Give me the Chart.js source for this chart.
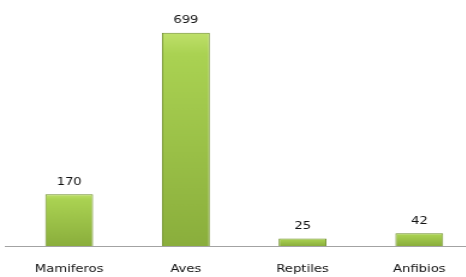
<!DOCTYPE html>
<html>
<head>
<meta charset="utf-8">
<script src="https://cdn.jsdelivr.net/npm/chart.js@4"></script>
<style>
  html, body { margin: 0; padding: 0; background: #fff; overflow: hidden; width: 466px; height: 277px; }
  #wrap { width: 398px; height: 277px; transform: scaleX(1.2); transform-origin: 0 0; }
</style>
</head>
<body>
<div id="wrap"><canvas id="canvas" width="398" height="277"></canvas></div>
<script>
const categorias = ['Mamiferos', 'Aves', 'Reptiles', 'Anfibios'];
const especies = [170, 699, 25, 42];
const yMax = 800;

// base line under the bars, runs past the plot to the edge
const baseLine = {
    id: 'baseLine',
    beforeDatasetsDraw(chart) {
        const ctx = chart.ctx;
        const y = Math.round(chart.chartArea.bottom) + 0.5;
        ctx.save();
        ctx.strokeStyle = '#a3a3a3';
        ctx.lineWidth = 1;
        ctx.beginPath();
        ctx.moveTo(4, y);
        ctx.lineTo(chart.width, y);
        ctx.stroke();
        ctx.restore();
    }
};

// numbers above each bar
const valueLabels = {
    id: 'valueLabels',
    afterDatasetsDraw(chart) {
        const ctx = chart.ctx;
        ctx.save();
        ctx.font = '11px "DejaVu Sans"';
        ctx.fillStyle = '#111';
        ctx.textAlign = 'center';
        ctx.textBaseline = 'bottom';
        chart.getDatasetMeta(0).data.forEach((bar, i) => {
            ctx.fillText(especies[i], bar.x, bar.y - 7);
        });
        ctx.restore();
    }
};

function barFill(c) {
    const chart = c.chart;
    const ys = chart.scales.y;
    if (!ys || c.raw === undefined) return '#9cc247';
    const top = ys.getPixelForValue(c.raw);
    const base = ys.getPixelForValue(0);
    if (!isFinite(top) || !isFinite(base) || top === base) return '#9cc247';
    const g = chart.ctx.createLinearGradient(0, top, 0, base);
    g.addColorStop(0, '#bfe06a');
    g.addColorStop(0.1, '#aad252');
    g.addColorStop(1, '#8aae3c');
    return g;
}

const ctx = document.getElementById('canvas').getContext('2d');
const myChart = new Chart(ctx, {
    type: 'bar',
    data: {
        labels: categorias,
        datasets: [{
            data: especies,
            backgroundColor: barFill,
            borderColor: '#6f8f2a',
            borderWidth: 1,
            barPercentage: 0.41,
            categoryPercentage: 1
        }]
    },
    options: {
        responsive: false,
        animation: false,
        devicePixelRatio: 1,
        layout: { padding: { left: 9, right: 0, top: 2, bottom: 0 } },
        plugins: {
            legend: { display: false },
            tooltip: { enabled: false }
        },
        scales: {
            x: {
                grid: { display: false, drawTicks: false },
                border: { display: false },
                ticks: {
                    padding: 17,
                    color: '#111',
                    font: { family: 'DejaVu Sans', size: 11 }
                },
                afterFit(scale) { scale.height = 31; }
            },
            y: {
                display: false,
                min: 0,
                max: yMax
            }
        }
    },
    plugins: [baseLine, valueLabels]
});
</script>
</body>
</html>
